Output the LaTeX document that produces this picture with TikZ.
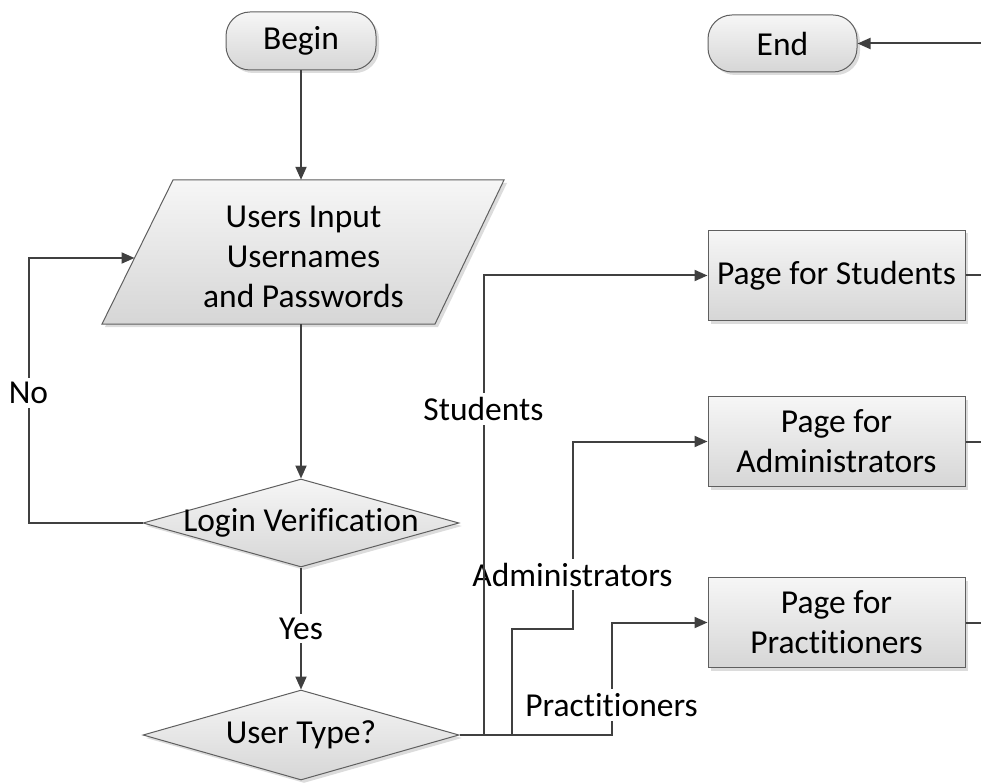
\documentclass[tikz,border=0pt]{standalone}
\usepackage{fontspec}
\setmainfont[Ligatures=NoCommon]{Carlito}
\usetikzlibrary{shapes.geometric,arrows.meta,shadows}
\definecolor{edgegray}{RGB}{95,95,95}
\definecolor{linegray}{RGB}{64,64,64}
\definecolor{filltop}{RGB}{246,246,246}
\definecolor{fillbot}{RGB}{214,214,214}
\definecolor{shadowgray}{RGB}{205,205,205}
\begin{document}
\begin{tikzpicture}[x=1pt,y=-1pt,
  every node/.style={font=\fontsize{33.5}{40}\selectfont},
  every label/.style={font=\fontsize{33.5}{40}\selectfont},
  shapebase/.style={draw=edgegray, line width=1pt, top color=filltop, bottom color=fillbot,
    drop shadow={shadow xshift=3pt, shadow yshift=-3pt, fill=shadowgray, opacity=0.7}},
  terminal/.style={shapebase, rectangle, rounded corners=24pt, minimum width=150pt, minimum height=58pt, inner sep=0pt},
  process/.style={shapebase, rectangle, minimum width=257pt, minimum height=90pt, align=center, inner sep=0pt},
  decision/.style={shapebase, diamond, minimum width=316pt, minimum height=88pt, inner sep=0pt},
  conn/.style={draw=linegray, line width=2pt},
  arr/.style={conn, -{Triangle[length=13pt,width=11pt]}},
  lbl/.style={fill=white, inner sep=4pt},
]
\useasboundingbox (0,0) rectangle (981,783);

% terminals
\node[terminal] (begin) at (301,41) {Begin};
\node[terminal, minimum width=149pt, minimum height=57pt] (stop) at (782.5,43.5) {End};

% input parallelogram
\path[shapebase] (173,180) -- (504,180) -- (435,324) -- (102,324) -- cycle;
\node[minimum width=333pt, minimum height=144pt, inner sep=0pt,
  label={[align=center,yshift=-5pt]center:{Users Input\\Usernames\\and Passwords}}] (input) at (303.5,252) {};
\coordinate (inL) at (134.5,258);

% decisions
\node[decision, label={center:Login Verification}] (login) at (301,523) {};
\node[decision, minimum height=90pt, label={center:User Type?}] (utype) at (301,735) {};

% pages
\node[process] (pS) at (836.5,275.5) {Page for Students};
\node[process] (pA) at (836.5,441.5) {Page for\\Administrators};
\node[process] (pP) at (836.5,622.5) {Page for\\Practitioners};

% free ends at the right margin
\coordinate (feed) at (981,43.5);

% main flow
\draw[arr] (begin.south) -- (begin.south |- input.north);
\draw[arr] (login.north |- input.south) -- (login.north);
\draw[arr] (login.west) -- ++(-114,0) |- node[lbl,pos=0.245]{No} (inL);
\draw[arr] (login.south) -- node[lbl]{Yes} (utype.north);

% branches by user type
\draw[arr] (utype.east) -- ++(152,0) |- node[lbl,pos=0.133]{Practitioners} (pP.west);
\draw[arr] (utype.east) -- ++(52,0) -- ++(0,-106) -- ++(61,0) |- node[lbl,pos=0.145]{Administrators} (pA.west);
\draw[arr] (utype.east) -- ++(24,0) |- node[lbl,pos=0.355]{Students} (pS.west);

% exits towards End
\draw[conn] (pS.east) -- (pS.east -| feed);
\draw[conn] (pA.east) -- (pA.east -| feed);
\draw[conn] (pP.east) -- (pP.east -| feed);
\draw[arr] (feed) -- (stop.east);
\end{tikzpicture}
\end{document}
